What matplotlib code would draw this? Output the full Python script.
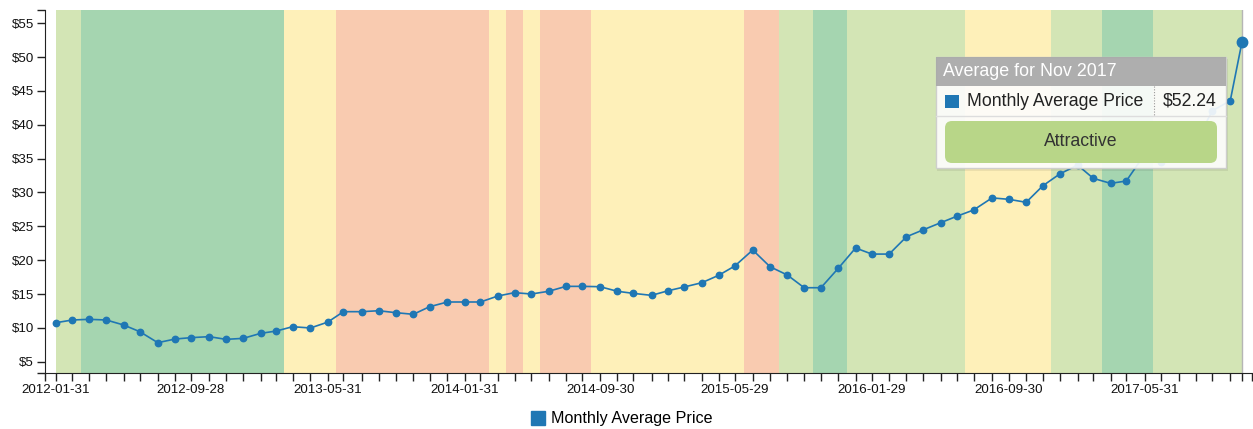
import matplotlib
matplotlib.use('Agg')
import matplotlib.pyplot as plt
import pandas as pd
from matplotlib.patches import Rectangle, FancyBboxPatch
from matplotlib.lines import Line2D

plt.rcParams['font.family'] = ['Liberation Sans', 'DejaVu Sans']

# monthly average price, business month ends Jan 2012 .. Oct 2017, then Nov 2017 so far
prices = [10.76, 11.16, 11.26, 11.16, 10.42, 9.43, 7.81, 8.35, 8.55, 8.70,
          8.30, 8.45, 9.19, 9.53, 10.17, 9.98, 10.85, 12.39, 12.39, 12.53,
          12.24, 12.00, 13.12, 13.82, 13.82, 13.82, 14.70, 15.20, 15.00, 15.40,
          16.13, 16.13, 16.08, 15.40, 15.10, 14.80, 15.49, 16.03, 16.67, 17.76,
          19.14, 21.50, 19.03, 17.80, 15.93, 15.93, 18.80, 21.80, 20.90, 20.90,
          23.46, 24.45, 25.53, 26.52, 27.41, 29.20, 28.99, 28.55, 31.00, 32.73,
          34.05, 32.09, 31.35, 31.69, 35.63, 34.54, 35.78, 37.50, 42.08, 43.55,
          52.24]
dates = list(pd.date_range('2012-01-31', periods=70, freq=pd.offsets.BMonthEnd()))
dates.append(pd.Timestamp('2017-11-21'))
days = [(d - dates[0]).days for d in dates]

label_every = 8

# valuation regions by month index (first, last, rating)
band_start = [0, 2, 14, 17, 26, 27, 28, 29, 32, 41, 43, 45, 47, 54, 59, 62, 65]
band_end = [1, 13, 16, 25, 26, 27, 28, 31, 40, 42, 44, 46, 53, 58, 61, 64, 70]
band_rating = ['Attractive', 'Very Attractive', 'Fair', 'Unattractive', 'Fair',
               'Unattractive', 'Fair', 'Unattractive', 'Fair', 'Unattractive',
               'Attractive', 'Very Attractive', 'Attractive', 'Fair', 'Attractive',
               'Very Attractive', 'Attractive']
rating_colors = {'Very Attractive': '#a5d5b0', 'Attractive': '#d3e5b5',
                 'Fair': '#fef0b9', 'Unattractive': '#f9cbb0'}

line_color = '#1f77b4'
W, H = 1253, 429

fig = plt.figure(figsize=(W / 100, H / 100), dpi=100)
ax = fig.add_axes([45 / W, 1 - 373 / H, (1252 - 45) / W, (373 - 10) / H])

last = len(days) - 1


def edge(i, side):
    # region edges sit halfway between neighbouring months, clipped to the data
    if side < 0:
        return days[0] if i == 0 else (days[i - 1] + days[i]) / 2
    return days[last] if i == last else (days[i] + days[i + 1]) / 2


for s, e, r in zip(band_start, band_end, band_rating):
    ax.axvspan(edge(s, -1), edge(e, 1), color=rating_colors[r], lw=0, zorder=0)

ax.axvline(days[last], color='#b5b5b5', lw=1, zorder=1)
ax.plot(days, prices, color=line_color, lw=1.2, marker='o', ms=4.6, zorder=3)
ax.plot(days[-1], prices[-1], 'o', color=line_color, ms=7.5, zorder=4)

x0, x1 = -19.7, days[last] + 17.9
ax.set_xlim(x0, x1)
ax.set_ylim(3.33, 56.96)

ax.set_xticks(days)
ax.set_xticklabels([d.strftime('%Y-%m-%d') if i % label_every == 0 and i < last else ''
                    for i, d in enumerate(dates)])
ax.set_xticks([x0, x1], minor=True)
yt = list(range(5, 60, 5))
ax.set_yticks(yt)
ax.set_yticklabels(['$%d' % v for v in yt])
ax.set_yticks([3.33, 56.96], minor=True)
ax.tick_params(which='both', direction='out', length=6, width=1, color='#222',
               labelsize=9.6, labelcolor='#111', pad=2)
for s in ['top', 'right']:
    ax.spines[s].set_visible(False)
for s in ['left', 'bottom']:
    ax.spines[s].set_color('#222')

# legend
ax.legend(handles=[Line2D([], [], marker='s', ls='', color=line_color, ms=10.5)],
          labels=['Monthly Average Price'], loc='center',
          bbox_to_anchor=(621 / W, 1 - 419 / H), bbox_transform=fig.transFigure,
          frameon=False, fontsize=11.6, handletextpad=0.3, borderpad=0, handlelength=1)

# hover tooltip, drawn in pixel coordinates
ov = fig.add_axes([0, 0, 1, 1])
ov.set_xlim(0, W)
ov.set_ylim(H, 0)
ov.axis('off')
ov.patch.set_alpha(0)

ov.add_patch(Rectangle((937, 59), 291, 112, fc='#000000', alpha=0.07, lw=0))
ov.add_patch(Rectangle((936, 57), 290, 111, fc='white', alpha=0.9, ec='#cccccc', lw=1))
ov.add_patch(Rectangle((936, 57), 290, 28.5, fc='#aaaaaa', alpha=0.95, lw=0))
ov.text(943, 71.5, 'Average for Nov 2017', color='white', fontsize=12.9, va='center', ha='left')
ov.plot([936, 1226], [116, 116], color='#dddddd', lw=1)
ov.add_patch(Rectangle((945, 94.5), 13.5, 13, fc=line_color, lw=0))
ov.text(967, 101, 'Monthly Average Price', color='#222', fontsize=12.7, va='center', ha='left')
ov.plot([1154, 1154], [86, 116], color='#999999', lw=0.8, ls=(0, (1, 1.5)))
ov.text(1163, 101, '$52.24', color='#222', fontsize=12.7, va='center', ha='left')
ov.add_patch(FancyBboxPatch((951, 127), 260, 30, boxstyle='round,pad=6,rounding_size=7',
                            fc='#b8d688', ec='none'))
ov.text(1081, 142, 'Attractive', color='#333', fontsize=12.7, va='center', ha='center')

fig.savefig('out.png', dpi=100)
